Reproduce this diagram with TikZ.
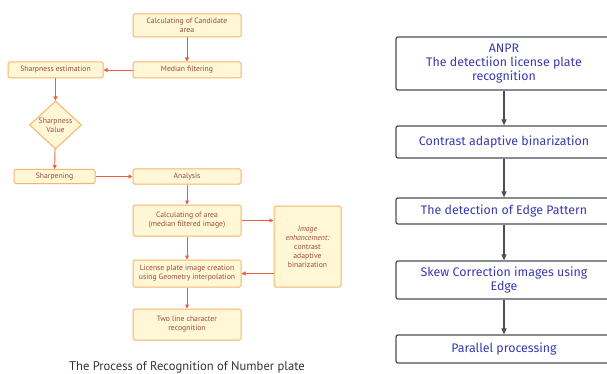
\documentclass[tikz,border=0pt]{standalone}
\usepackage{fontspec}
\setmainfont{PT Sans}
\newfontfamily\rightfont{Fira Sans}
\usetikzlibrary{shapes.geometric,arrows.meta}
\definecolor{lbord}{HTML}{F6B56C}
\definecolor{lfill}{HTML}{FFF7D6}
\definecolor{ltext}{HTML}{9A4B3C}
\definecolor{larrow}{HTML}{E8623F}
\definecolor{rbord}{HTML}{4A4F57}
\definecolor{rtext}{HTML}{3A3AB0}
\definecolor{captext}{HTML}{333333}
\tikzset{
  lbox/.style={draw=lbord, fill=lfill, line width=1pt, rounded corners=1.5pt,
    text=ltext, font=\fontsize{7.7}{9}\selectfont, align=center, inner sep=1pt},
  ldia/.style={diamond, draw=lbord, fill=lfill, line width=1pt,
    text=ltext, font=\fontsize{7.7}{9}\selectfont, align=center, inner sep=0pt,
    minimum width=52pt, minimum height=44pt},
  larr/.style={draw=larrow, line width=0.9pt, -{Triangle[length=4pt,width=4pt]}},
  rbox/.style={draw=rbord, line width=1.2pt, rounded corners=2pt, fill=white,
    text=rtext, font=\rightfont\fontsize{12.4}{14}\selectfont, align=center,
    minimum width=216pt, inner sep=1pt},
  rarr/.style={draw=rbord, line width=1.1pt, -{Triangle[length=6pt,width=5pt]}}
}
\begin{document}
\begin{tikzpicture}[x=1pt,y=-1pt]
\useasboundingbox[fill=white] (0,0) rectangle (607,374);
% left flowchart
\node[lbox, minimum width=108pt, minimum height=23pt] (cand) at (187,25.5) {Calculating of Candidate\\area};
\node[lbox, minimum width=108pt, minimum height=16pt] (med) at (187,70) {Median filtering};
\node[lbox, minimum width=95pt, minimum height=16pt] (sest) at (55.5,70) {Sharpness estimation};
\node[ldia] (sval) at (55.5,125) {Sharpness\\Value};
\node[lbox, minimum width=81pt, minimum height=14pt] (sharp) at (54.5,176.5) {Sharpening};
\node[lbox, minimum width=108pt, minimum height=15pt] (anal) at (187,176.5) {Analysis};
\node[lbox, minimum width=108pt, minimum height=31pt] (carea) at (187,220.5) {Calculating of area\\(median filtered image)};
\node[lbox, minimum width=67pt, minimum height=81pt] (enh) at (307.5,246.5) {\itshape Image\\\itshape enhancement:\\contrast\\adaptive\\binarization};
\node[lbox, minimum width=108pt, minimum height=27pt] (lic) at (187,273.5) {License plate image creation\\using Geometry interpolation};
\node[lbox, minimum width=108pt, minimum height=31pt] (two) at (187,324.5) {Two line character\\recognition};
\draw[larr] (cand) -- (med);
\draw[larr] (med) -- (sest);
\draw[larr] (sest) -- (sval);
\draw[larr] (sval) -- (sharp);
\draw[larr] (sharp) -- (anal);
\draw[larr] (anal) -- (carea);
\draw[larr] (carea) -- (lic);
\draw[larr] (lic) -- (two);
\draw[larr] (carea.east) -- (carea.east -| enh.west);
\draw[larr] (enh.west |- lic.east) -- (lic.east);
\node[text=captext, font=\fontsize{12.6}{14}\selectfont] (cap) at (187,367) {The Process of Recognition of Number plate};
% right flowchart
\node[rbox, minimum height=53pt] (anpr) at (504,63.5) {ANPR\\The detectiion license plate\\recognition};
\node[rbox, minimum height=32pt] (cab) at (504,142) {Contrast adaptive binarization};
\node[rbox, minimum height=26pt] (edge) at (504,211) {The detection of Edge Pattern};
\node[rbox, minimum height=38pt] (skew) at (504,280) {Skew Correction images using\\Edge};
\node[rbox, minimum height=28pt] (par) at (504,349) {Parallel processing};
\draw[rarr] (anpr) -- (cab);
\draw[rarr] (cab) -- (edge);
\draw[rarr] (edge) -- (skew);
\draw[rarr] (skew) -- (par);
\end{tikzpicture}
\end{document}
